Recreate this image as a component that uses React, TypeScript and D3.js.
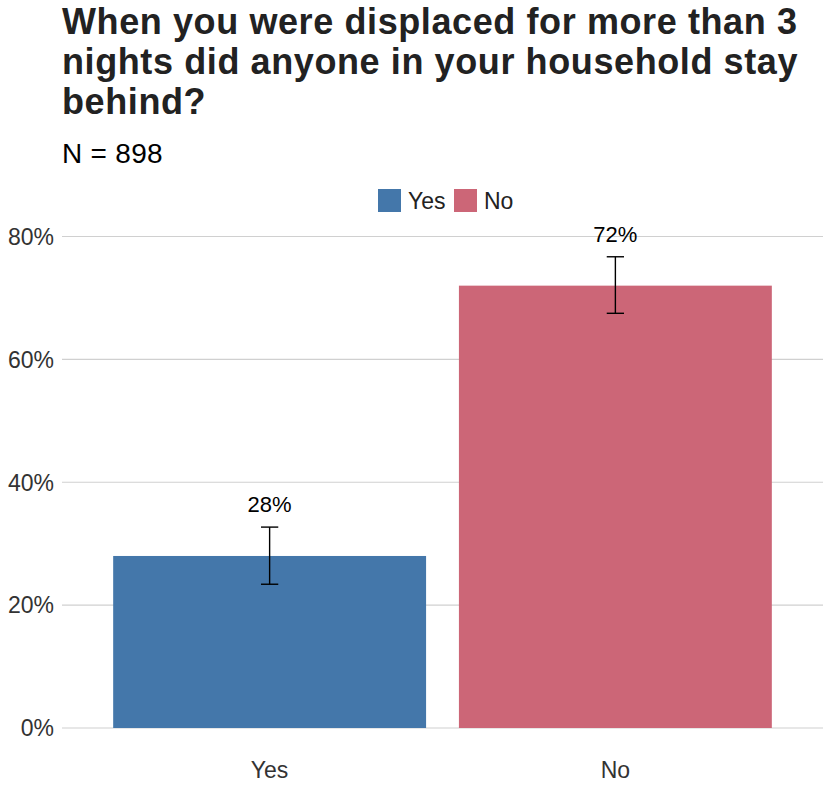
import * as d3 from "d3";

const categories = ["Yes", "No"];
const shares = [0.28, 0.72];
const lowerCI = [0.234, 0.675];
const upperCI = [0.327, 0.767];
const colors = ["#4477AA", "#CC6677"];
const yTicks = [0, 0.2, 0.4, 0.6, 0.8];
const titleLines = [
  "When you were displaced for more than 3",
  "nights did anyone in your household stay",
  "behind?",
];
const subtitle = "N = 898";

const FONT = "'Liberation Sans', Arial, Helvetica, sans-serif";

export default function App() {
  const width = 830;
  const height = 805;
  const margin = { top: 236.5, right: 7, bottom: 77, left: 62 };

  const x = d3
    .scaleBand<string>()
    .domain(categories)
    .range([margin.left, width - margin.right])
    .paddingInner(0.095)
    .paddingOuter(0.148);

  const y = d3
    .scaleLinear()
    .domain([0, 0.8])
    .range([height - margin.bottom, margin.top]);

  const fmt = d3.format(".0%");
  const capW = x.step() * 0.05;

  return (
    <svg
      width={width}
      height={height}
      style={{ position: "absolute", left: 0, top: 0, background: "#fff" }}
      fontFamily={FONT}
    >
      {/* title */}
      {titleLines.map((t, i) => (
        <text
          key={t}
          x={margin.left}
          y={34 + i * 40}
          fontSize={36}
          letterSpacing={0.6}
          fontWeight="bold"
          fill="#222"
        >
          {t}
        </text>
      ))}
      <text
        x={margin.left}
        y={163}
        fontSize={28}
        letterSpacing={0.3}
        fill="#000"
      >
        {subtitle}
      </text>

      {/* legend */}
      {categories.map((c, i) => {
        const lx = i === 0 ? 378 : 454;
        return (
          <g key={c}>
            <rect x={lx} y={189} width={23} height={23} fill={colors[i]} />
            <text x={lx + 30} y={209} fontSize={23} fill="#222">
              {c}
            </text>
          </g>
        );
      })}

      {/* grid + y labels */}
      {yTicks.map((t) => (
        <g key={t}>
          <line
            x1={margin.left}
            x2={width - margin.right}
            y1={y(t)}
            y2={y(t)}
            stroke="#d0d0d0"
            strokeWidth={1.2}
          />
          <text
            x={54}
            y={y(t)}
            dy="0.36em"
            textAnchor="end"
            fontSize={23}
            fill="#333"
          >
            {fmt(t)}
          </text>
        </g>
      ))}

      {/* bars */}
      {categories.map((c, i) => (
        <rect
          key={c}
          x={x(c)}
          y={y(shares[i])}
          width={x.bandwidth()}
          height={y(0) - y(shares[i])}
          fill={colors[i]}
        />
      ))}

      {/* error bars */}
      {categories.map((c, i) => {
        const cx = (x(c) ?? 0) + x.bandwidth() / 2;
        return (
          <g key={c} stroke="#000" strokeWidth={1.4}>
            <line x1={cx} x2={cx} y1={y(upperCI[i])} y2={y(lowerCI[i])} />
            <line
              x1={cx - capW / 2}
              x2={cx + capW / 2}
              y1={y(upperCI[i])}
              y2={y(upperCI[i])}
            />
            <line
              x1={cx - capW / 2}
              x2={cx + capW / 2}
              y1={y(lowerCI[i])}
              y2={y(lowerCI[i])}
            />
          </g>
        );
      })}

      {/* value labels */}
      {categories.map((c, i) => (
        <text
          key={c}
          x={(x(c) ?? 0) + x.bandwidth() / 2}
          y={y(upperCI[i]) - 15}
          textAnchor="middle"
          fontSize={22}
          fill="#000"
        >
          {fmt(shares[i])}
        </text>
      ))}

      {/* x labels */}
      {categories.map((c) => (
        <text
          key={c}
          x={(x(c) ?? 0) + x.bandwidth() / 2}
          y={778}
          textAnchor="middle"
          fontSize={23}
          fill="#333"
        >
          {c}
        </text>
      ))}
    </svg>
  );
}
